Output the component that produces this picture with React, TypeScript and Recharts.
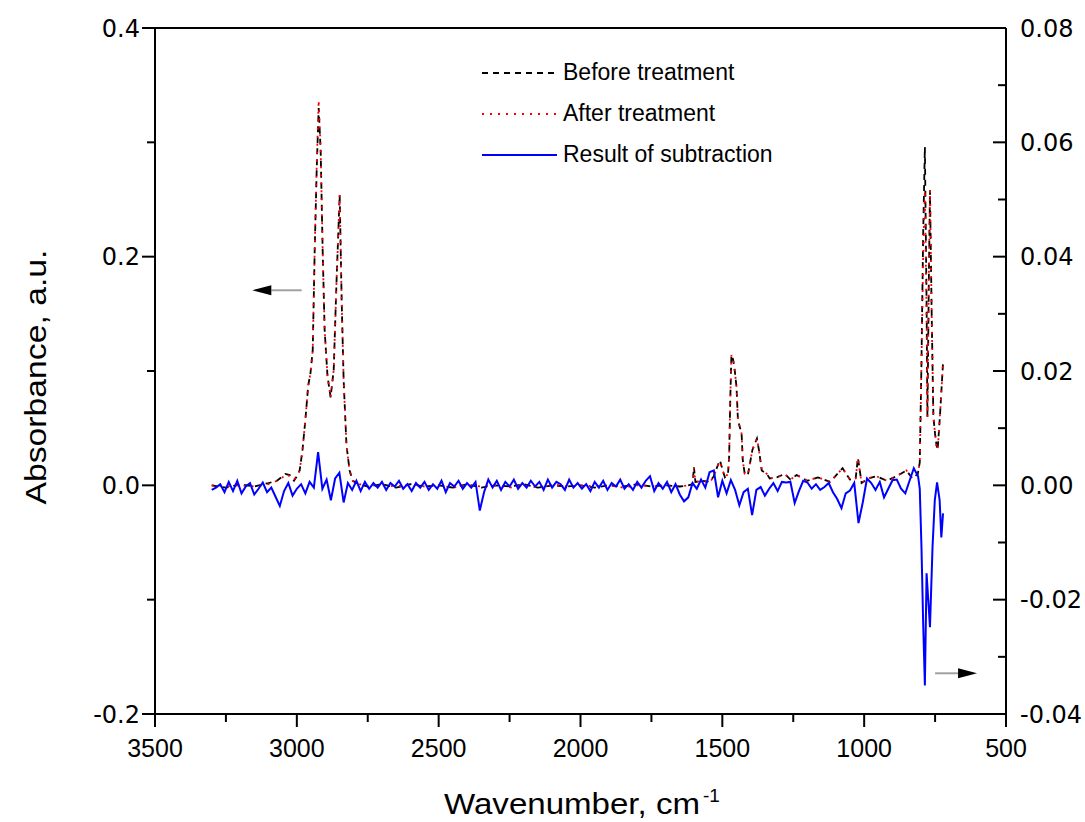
import React from 'react';
import { LineChart, Line, XAxis, YAxis, ReferenceLine, Legend } from 'recharts';

// ---------- data ----------
const xTicks = [3500, 3250, 3000, 2750, 2500, 2250, 2000, 1750, 1500, 1250, 1000, 750, 500];
const xMajorTicks = [3500, 3000, 2500, 2000, 1500, 1000, 500];
const leftTicks = [-0.2, -0.1, 0, 0.1, 0.2, 0.3, 0.4];
const rightTicks = [-0.04, -0.03, -0.02, -0.01, 0, 0.01, 0.02, 0.03, 0.04, 0.05, 0.06, 0.07, 0.08];

const seriesNames = ['Before treatment', 'After treatment', 'Result of subtraction'];

const spectrumWavenumbers = [
  3300, 3250, 3200, 3150, 3100, 3070, 3050, 3040, 3025, 3010,
  3000, 2990, 2980, 2970, 2960, 2952, 2944, 2937, 2930, 2923,
  2916, 2909, 2902, 2892, 2881, 2870, 2860, 2849, 2842, 2835,
  2825, 2814, 2803, 2780, 2750, 2700, 2650, 2600, 2550, 2500,
  2450, 2400, 2350, 2300, 2250, 2200, 2150, 2100, 2050, 2000,
  1950, 1900, 1850, 1800, 1750, 1700, 1650, 1620, 1605, 1600,
  1595, 1570, 1545, 1530, 1523, 1509, 1491, 1480, 1476, 1472,
  1468, 1462, 1456, 1450, 1445, 1432, 1428, 1421, 1410, 1394,
  1378, 1371, 1361, 1343, 1333, 1308, 1280, 1260, 1238, 1200,
  1163, 1120, 1076, 1050, 1030, 1022, 1009, 985, 957, 920,
  886, 851, 830, 811, 804, 798, 792, 786, 780, 777,
  772, 768, 762, 756, 750, 745, 741, 733, 722,
];

const beforeTreatment = [
  0.000, -0.002, 0.001, -0.001, 0.002, 0.004, 0.008, 0.010, 0.009, 0.004,
  0.008, 0.013, 0.031, 0.057, 0.087, 0.098, 0.118, 0.206, 0.276, 0.330,
  0.293, 0.206, 0.136, 0.096, 0.077, 0.101, 0.179, 0.254, 0.162, 0.092,
  0.035, 0.013, 0.004, 0.001, -0.001, 0.001, -0.002, 0.001, -0.001, 0.000,
  -0.002, 0.001, -0.002, 0.000, -0.001, 0.001, -0.002, 0.000, -0.001, 0.000,
  -0.002, 0.000, -0.001, 0.001, -0.001, 0.000, -0.001, 0.000, 0.001, 0.016,
  0.003, 0.004, 0.003, 0.008, 0.013, 0.022, 0.007, 0.010, 0.025, 0.075,
  0.114, 0.110, 0.100, 0.086, 0.057, 0.045, 0.022, 0.010, 0.009, 0.031,
  0.041, 0.031, 0.013, 0.010, 0.006, 0.007, 0.010, 0.005, 0.009, 0.004,
  0.007, 0.003, 0.015, 0.005, 0.006, 0.024, 0.002, 0.006, 0.008, 0.004,
  0.008, 0.013, 0.006, 0.010, 0.020, 0.107, 0.220, 0.296, 0.160, 0.060,
  0.180, 0.258, 0.150, 0.060, 0.045, 0.035, 0.031, 0.060, 0.107,
];

const afterTreatment = [
  0.000, -0.001, 0.000, -0.001, 0.001, 0.004, 0.007, 0.010, 0.008, 0.005,
  0.008, 0.013, 0.031, 0.057, 0.087, 0.098, 0.118, 0.206, 0.280, 0.337,
  0.293, 0.206, 0.136, 0.096, 0.077, 0.101, 0.179, 0.254, 0.162, 0.092,
  0.035, 0.013, 0.004, 0.001, -0.001, 0.000, -0.001, 0.001, -0.001, 0.000,
  -0.002, 0.000, -0.001, 0.000, -0.002, 0.000, -0.002, 0.001, -0.001, 0.000,
  -0.001, 0.000, -0.002, 0.000, -0.001, 0.000, -0.001, 0.000, 0.001, 0.015,
  0.003, 0.004, 0.002, 0.008, 0.013, 0.021, 0.007, 0.010, 0.025, 0.075,
  0.114, 0.110, 0.100, 0.086, 0.057, 0.045, 0.022, 0.010, 0.009, 0.031,
  0.041, 0.031, 0.013, 0.010, 0.006, 0.007, 0.010, 0.005, 0.009, 0.004,
  0.007, 0.003, 0.015, 0.005, 0.006, 0.024, 0.002, 0.006, 0.008, 0.004,
  0.008, 0.013, 0.006, 0.010, 0.020, 0.107, 0.200, 0.258, 0.150, 0.060,
  0.180, 0.258, 0.150, 0.060, 0.045, 0.035, 0.031, 0.060, 0.107,
];

const subtractionWavenumbers = [
  3300, 3285, 3270, 3255, 3240, 3225, 3210, 3195, 3180, 3165,
  3150, 3135, 3120, 3105, 3090, 3075, 3060, 3045, 3030, 3015,
  3000, 2985, 2970, 2955, 2940, 2925, 2910, 2895, 2880, 2865,
  2850, 2835, 2820, 2805, 2790, 2775, 2760, 2745, 2730, 2715,
  2700, 2685, 2670, 2655, 2640, 2625, 2610, 2595, 2580, 2565,
  2550, 2535, 2520, 2505, 2490, 2475, 2460, 2445, 2430, 2415,
  2400, 2385, 2370, 2355, 2340, 2325, 2310, 2295, 2280, 2265,
  2250, 2235, 2220, 2205, 2190, 2175, 2160, 2145, 2130, 2115,
  2100, 2085, 2070, 2055, 2040, 2025, 2010, 1995, 1980, 1965,
  1950, 1935, 1920, 1905, 1890, 1875, 1860, 1845, 1830, 1815,
  1800, 1785, 1770, 1755, 1740, 1725, 1710, 1695, 1680, 1665,
  1650, 1635, 1620, 1605, 1590, 1575, 1560, 1545, 1530, 1515,
  1500, 1485, 1470, 1455, 1440, 1425, 1410, 1395, 1380, 1365,
  1350, 1335, 1320, 1305, 1290, 1275, 1260, 1245, 1230, 1215,
  1200, 1185, 1170, 1155, 1140, 1125, 1110, 1095, 1080, 1065,
  1050, 1035, 1020, 1005, 990, 975, 960, 945, 930, 915,
  900, 885, 870, 855, 840, 825, 810, 804, 798, 792,
  786, 780, 774, 768, 759, 751, 743, 734, 728, 722,
];

const subtractionResult = [
  -0.0008, -0.0004, 0.0002, -0.0012, 0.0006, -0.0010, 0.0008, -0.0014, -0.0002, 0.0004,
  -0.0016, -0.0006, 0.0005, -0.0012, -0.0004, -0.0020, -0.0036, -0.0010, 0.0004, -0.0018,
  -0.0006, 0.0002, -0.0014, 0.0006, -0.0004, 0.0058, -0.0006, 0.0010, -0.0026, 0.0012,
  0.0022, -0.0030, 0.0004, -0.0008, 0.0008, -0.0010, 0.0006, -0.0006, 0.0004, -0.0004,
  0.0006, -0.0008, 0.0004, -0.0002, 0.0008, -0.0006, 0.0002, -0.0010, 0.0004, -0.0004,
  0.0006, -0.0008, 0.0002, -0.0006, 0.0008, -0.0012, 0.0004, -0.0002, 0.0008, -0.0006,
  0.0004, -0.0004, 0.0006, -0.0044, -0.0012, 0.0010, -0.0004, 0.0008, -0.0008, 0.0006,
  -0.0002, 0.0010, -0.0006, 0.0004, -0.0004, 0.0008, -0.0002, 0.0006, -0.0008, 0.0010,
  -0.0004, 0.0006, 0.0002, -0.0008, 0.0010, -0.0004, 0.0004, -0.0006, 0.0002, -0.0010,
  0.0006, -0.0004, 0.0008, -0.0008, 0.0004, -0.0002, 0.0010, -0.0006, 0.0002, -0.0008,
  0.0006, -0.0004, 0.0008, 0.0016, -0.0010, 0.0004, -0.0006, 0.0006, -0.0012, 0.0002,
  -0.0016, -0.0028, -0.0021, 0.0004, -0.0006, 0.0010, -0.0004, 0.0023, 0.0026, -0.0021,
  0.0008, -0.0014, 0.0009, -0.0008, -0.0035, -0.0012, -0.0006, -0.0052, -0.0008, -0.0003,
  -0.0018, -0.0006, 0.0004, -0.0010, 0.0006, 0.0005, 0.0006, -0.0031, -0.0010, 0.0008,
  0.0005, -0.0006, 0.0002, -0.0008, -0.0003, 0.0004, -0.0012, -0.0024, -0.0040, -0.0014,
  -0.0009, 0.0004, -0.0066, -0.0030, 0.0012, 0.0004, -0.0008, 0.0006, -0.0021, -0.0006,
  0.0009, 0.0010, -0.0006, -0.0014, 0.0008, 0.0030, 0.0016, -0.0006, -0.0108, -0.0241,
  -0.0350, -0.0154, -0.0201, -0.0248, -0.0108, -0.0026, 0.0005, -0.0026, -0.0091, -0.0049,
];

// annotation arrows (data coordinates, left axis): [tail, head]
const leftArrow = [{ x: 2983, y: 0.1706 }, { x: 3157, y: 0.1706 }];
const rightArrow = [{ x: 750, y: -0.1644 }, { x: 602, y: -0.1644 }];

// ---------- derived tables ----------
const spectrumRows = spectrumWavenumbers.map((w, i) => ({
  w,
  before: beforeTreatment[i],
  after: afterTreatment[i],
}));
const subtractionRows = subtractionWavenumbers.map((w, i) => ({ w, sub: subtractionResult[i] }));

// ---------- styles ----------
const SANS = '"Liberation Sans", Arial, sans-serif';
const WIDE = '"DejaVu Sans", sans-serif';
const BLACK_DASH = '6 5';
const RED_DOT = '2 6';
const lineStyles = [
  { stroke: '#000000', dash: BLACK_DASH, width: 1.8 },
  { stroke: '#ff0000', dash: RED_DOT, width: 1.8 },
  { stroke: '#0000ff', dash: undefined as string | undefined, width: 2 },
];

function BottomTick(props: any) {
  const { x, y, payload } = props;
  const major = xMajorTicks.includes(payload.value);
  return (
    <g>
      <line x1={x} y1={y} x2={x} y2={y + (major ? 13 : 8)} stroke="#000" strokeWidth={2} />
      {major && (
        <text x={x} y={y + 43} textAnchor="middle" fontSize={25} fontFamily={SANS} fill="#000">
          {payload.value}
        </text>
      )}
    </g>
  );
}

function LeftTick(props: any) {
  const { x, y, payload } = props;
  const v = payload.value as number;
  const major = Math.abs(Math.round(v * 10)) % 2 === 0;
  return (
    <g>
      <line x1={x} y1={y} x2={x - (major ? 13 : 8)} y2={y} stroke="#000" strokeWidth={2} />
      {major && (
        <text x={x - 15} y={y} dy="0.36em" textAnchor="end" fontSize={24} fontFamily={WIDE} fill="#000">
          {v.toFixed(1)}
        </text>
      )}
    </g>
  );
}

function RightTick(props: any) {
  const { x, y, payload } = props;
  const v = payload.value as number;
  const major = Math.abs(Math.round(v * 100)) % 2 === 0;
  return (
    <g>
      <line x1={x} y1={y} x2={x - (major ? 13 : 8)} y2={y} stroke="#000" strokeWidth={2} />
      {major && (
        <text x={x + 14} y={y} dy="0.36em" textAnchor="start" fontSize={24} fontFamily={WIDE} fill="#000">
          {v.toFixed(2)}
        </text>
      )}
    </g>
  );
}

function YTitle(props: any) {
  const vb = props.viewBox || { x: 0, y: 28, width: 155, height: 686 };
  const bx = vb.x + 46;
  const cy = vb.y + vb.height / 2 + 6;
  return (
    <text
      x={bx}
      y={cy}
      transform={`rotate(-90 ${bx} ${cy})`}
      textAnchor="middle"
      fontSize={30}
      fontFamily={SANS}
      fill="#000"
      textLength={255}
      lengthAdjust="spacingAndGlyphs"
    >
      Absorbance, a.u.
    </text>
  );
}

function XTitle(props: any) {
  const vb = props.viewBox || { x: 155, y: 714, width: 851, height: 108 };
  const x0 = vb.x + 289;
  const by = vb.y + 100;
  return (
    <g>
      <text x={x0} y={by} fontSize={29} fontFamily={SANS} fill="#000" textLength={256} lengthAdjust="spacingAndGlyphs">
        Wavenumber, cm
      </text>
      <text x={x0 + 259} y={by - 12} fontSize={19} fontFamily={SANS} fill="#000">
        -1
      </text>
    </g>
  );
}

function ArrowShape(props: any) {
  const { x1, y1, x2, y2 } = props;
  const ang = Math.atan2(y2 - y1, x2 - x1);
  const headLen = 19;
  const halfW = 5;
  const bx = x2 - headLen * Math.cos(ang);
  const by = y2 - headLen * Math.sin(ang);
  const px = -Math.sin(ang) * halfW;
  const py = Math.cos(ang) * halfW;
  return (
    <g>
      <line x1={x1} y1={y1} x2={bx} y2={by} stroke="#a0a0a0" strokeWidth={2} />
      <polygon points={`${x2},${y2} ${bx + px},${by + py} ${bx - px},${by - py}`} fill="#000" />
    </g>
  );
}

function LegendContent() {
  return (
    <div style={{ fontFamily: SANS }}>
      {seriesNames.map((name, i) => (
        <div key={name} style={{ display: 'flex', alignItems: 'center', height: 41 }}>
          <svg width={81} height={10} style={{ display: 'block', flex: 'none' }}>
            <line
              x1={0}
              y1={5}
              x2={75}
              y2={5}
              stroke={lineStyles[i].stroke}
              strokeWidth={lineStyles[i].width}
              strokeDasharray={lineStyles[i].dash}
            />
          </svg>
          <span style={{ fontSize: 23, lineHeight: '23px', color: '#000', whiteSpace: 'nowrap' }}>{name}</span>
        </div>
      ))}
    </div>
  );
}

export default function App() {
  return (
    <div style={{ position: 'absolute', left: 0, top: 0, width: 1085, height: 822, background: '#fff' }}>
      <LineChart width={1085} height={822} margin={{ top: 28, right: 0, bottom: 0, left: 0 }}>
        <XAxis
          dataKey="w"
          type="number"
          domain={[500, 3500]}
          reversed
          allowDataOverflow
          ticks={xTicks}
          interval={0}
          height={108}
          tickSize={0}
          tickMargin={0}
          tickLine={false}
          axisLine={{ stroke: '#000', strokeWidth: 2 }}
          tick={<BottomTick />}
          label={<XTitle />}
        />
        <YAxis
          yAxisId="left"
          orientation="left"
          type="number"
          domain={[-0.2, 0.4]}
          allowDataOverflow
          ticks={leftTicks}
          interval={0}
          width={155}
          tickSize={0}
          tickMargin={0}
          tickLine={false}
          axisLine={{ stroke: '#000', strokeWidth: 2 }}
          tick={<LeftTick />}
          label={<YTitle />}
        />
        <YAxis
          yAxisId="right"
          orientation="right"
          type="number"
          domain={[-0.04, 0.08]}
          allowDataOverflow
          ticks={rightTicks}
          interval={0}
          width={79}
          tickSize={0}
          tickMargin={0}
          tickLine={false}
          axisLine={{ stroke: '#000', strokeWidth: 2 }}
          tick={<RightTick />}
        />
        <ReferenceLine yAxisId="left" y={0.4} stroke="#000" strokeWidth={2} />
        <Line
          data={spectrumRows}
          dataKey="before"
          name={seriesNames[0]}
          yAxisId="left"
          type="linear"
          stroke={lineStyles[0].stroke}
          strokeWidth={lineStyles[0].width}
          strokeDasharray={lineStyles[0].dash}
          dot={false}
          activeDot={false}
          isAnimationActive={false}
        />
        <Line
          data={spectrumRows}
          dataKey="after"
          name={seriesNames[1]}
          yAxisId="left"
          type="linear"
          stroke={lineStyles[1].stroke}
          strokeWidth={lineStyles[1].width}
          strokeDasharray={lineStyles[1].dash}
          dot={false}
          activeDot={false}
          isAnimationActive={false}
        />
        <Line
          data={subtractionRows}
          dataKey="sub"
          name={seriesNames[2]}
          yAxisId="right"
          type="linear"
          stroke={lineStyles[2].stroke}
          strokeWidth={lineStyles[2].width}
          dot={false}
          activeDot={false}
          isAnimationActive={false}
        />
        <ReferenceLine yAxisId="left" segment={leftArrow} shape={<ArrowShape />} />
        <ReferenceLine yAxisId="left" segment={rightArrow} shape={<ArrowShape />} />
        <Legend
          layout="vertical"
          align="center"
          verticalAlign="middle"
          content={<LegendContent />}
          wrapperStyle={{ left: 482, top: 52, width: 340, height: 125 }}
        />
      </LineChart>
    </div>
  );
}
